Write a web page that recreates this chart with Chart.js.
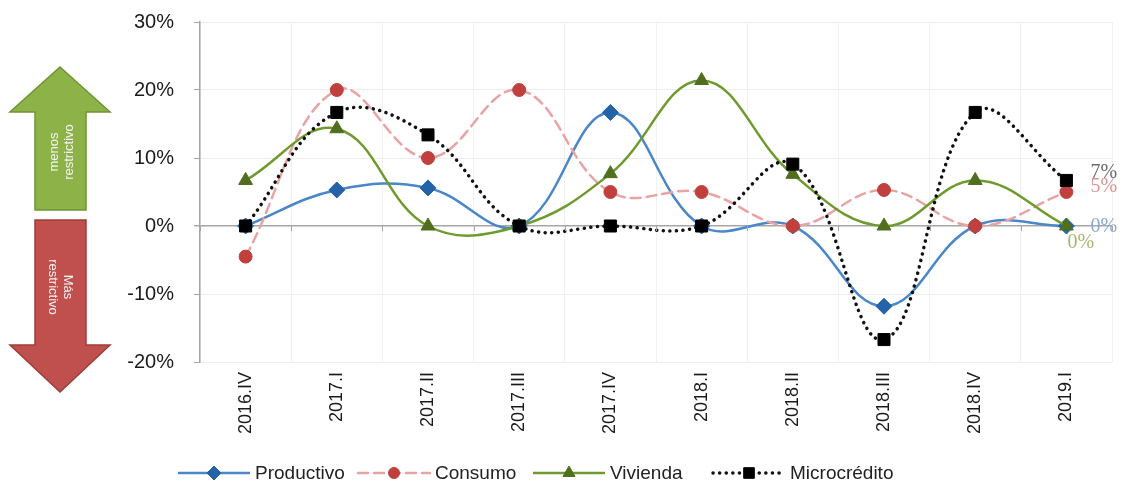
<!DOCTYPE html>
<html lang="es">
<head>
<meta charset="utf-8">
<title>Condiciones de crédito</title>
<script src="https://cdn.jsdelivr.net/npm/chart.js@4.4.1/dist/chart.umd.min.js"></script>
<style>
  html, body { margin: 0; padding: 0; background: #ffffff; }
  #caja { width: 1132px; height: 493px; position: relative; }
</style>
</head>
<body>
<div id="caja"><canvas id="grafico"></canvas></div>
<script>
// Datos (porcentaje neto por trimestre).
const trimestres = ["2016.IV", "2017.I", "2017.II", "2017.III", "2017.IV",
                    "2018.I", "2018.II", "2018.III", "2018.IV", "2019.I"];
const productivo   = [0, 5.3, 5.6, 0, 16.7, 0, 0, -11.8, 0, 0];
const consumo      = [-4.5, 20, 10, 20, 5, 5, 0, 5.3, 0, 5];
const vivienda     = [6.7, 14.3, 0, 0, 7.7, 21.4, 7.6, 0, 6.7, 0];
const microcredito = [0, 16.7, 13.4, 0, 0, 0, 9.1, -16.7, 16.7, 6.7];
const ticksY = [-20, -10, 0, 10, 20, 30];

const FUENTE = "'Liberation Sans', Arial, sans-serif";

const series = [
  { nombre: "Productivo", datos: productivo, linea: "#4a86c8", marca: "#2463a8",
    estilo: "rectRot", radio: 8, dash: [], ancho: 2.5, orden: 3,
    etiqueta: { color: "#8ea9d0", dx: 24, dy: 1 } },
  { nombre: "Consumo", datos: consumo, linea: "#e8a3a3", marca: "#c0403d",
    estilo: "circle", radio: 6.5, dash: [10, 6], ancho: 2.5, orden: 2,
    etiqueta: { color: "#d99694", dx: 24, dy: -5 } },
  { nombre: "Vivienda", datos: vivienda, linea: "#6f9a2e", marca: "#4f6f1f",
    estilo: "triangle", radio: 8, dash: [], ancho: 2.5, orden: 1,
    etiqueta: { color: "#a4b86a", dx: 1, dy: 17 } },
  { nombre: "Microcrédito", datos: microcredito, linea: "#111111", marca: "#000000",
    estilo: "rect", radio: 8.5, dash: [0.1, 6.5], ancho: 3.5, orden: 0,
    etiqueta: { color: "#6b6b6b", dx: 24, dy: -8 } },
];


// ---------------------------------------------------------------------------
// Flechas laterales, etiquetas finales y leyenda
// ---------------------------------------------------------------------------

function flecha(ctx, arriba, relleno, borde) {
  ctx.save();
  ctx.beginPath();
  if (arriba) {
    ctx.moveTo(60, 67); ctx.lineTo(110, 112); ctx.lineTo(86, 112);
    ctx.lineTo(86, 210); ctx.lineTo(35, 210); ctx.lineTo(35, 112);
    ctx.lineTo(10, 112);
  } else {
    ctx.moveTo(35, 220); ctx.lineTo(86, 220); ctx.lineTo(86, 345);
    ctx.lineTo(110, 345); ctx.lineTo(60, 392); ctx.lineTo(10, 345);
    ctx.lineTo(35, 345);
  }
  ctx.closePath();
  ctx.fillStyle = relleno;
  ctx.fill();
  ctx.lineWidth = 1.5;
  ctx.strokeStyle = borde;
  ctx.stroke();
  ctx.restore();
}

function textoGirado(ctx, lineas, cx, cy, angulo) {
  ctx.save();
  ctx.translate(cx, cy);
  ctx.rotate(angulo);
  ctx.fillStyle = "#f4f4f4";
  ctx.font = "13px " + FUENTE;
  ctx.textAlign = "center";
  ctx.textBaseline = "middle";
  const alto = 15;
  lineas.forEach((l, i) => {
    ctx.fillText(l, 0, (i - (lineas.length - 1) / 2) * alto);
  });
  ctx.restore();
}

function muestraSerie(ctx, s, x0, x1, y) {
  ctx.save();
  ctx.beginPath();
  ctx.setLineDash(s.dash);
  ctx.lineCap = s.dash.length ? "round" : "butt";
  ctx.lineWidth = s.ancho;
  ctx.strokeStyle = s.linea;
  ctx.moveTo(x0, y);
  ctx.lineTo(x1, y);
  ctx.stroke();
  ctx.restore();
  Chart.helpers.drawPoint(ctx, {
    pointStyle: s.estilo, radius: s.radio - 1, borderWidth: 1, rotation: 0,
  }, (x0 + x1) / 2, y);
}

const decoracion = {
  id: "decoracion",
  beforeDraw(chart) {
    const ctx = chart.ctx;
    flecha(ctx, true, "#8db348", "#6f9434");
    flecha(ctx, false, "#c0504d", "#9d3d3a");
    textoGirado(ctx, ["menos", "restrictivo"], 62, 152, -Math.PI / 2);
    textoGirado(ctx, ["Más", "restrictivo"], 60, 287, Math.PI / 2);
  },
  afterDatasetsDraw(chart) {
    const ctx = chart.ctx;
    const x = chart.scales.x;
    const y = chart.scales.y;
    const y0 = y.getPixelForValue(0);

    // marcas pequeñas del eje en el cero
    ctx.save();
    ctx.strokeStyle = "#a6a6a6";
    ctx.lineWidth = 1;
    for (let i = 0; i <= trimestres.length; i++) {
      const xp = Math.round(x.getPixelForValue(i - 0.5)) + 0.5;
      ctx.beginPath();
      ctx.moveTo(xp, y0);
      ctx.lineTo(xp, y0 + 5);
      ctx.stroke();
    }
    ctx.restore();

    // etiquetas del último dato
    const ult = trimestres.length - 1;
    ctx.save();
    ctx.font = "20px 'Liberation Serif', 'Times New Roman', serif";
    ctx.textBaseline = "middle";
    series.forEach((s) => {
      const v = s.datos[ult];
      const px = x.getPixelForValue(ult) + s.etiqueta.dx;
      const py = y.getPixelForValue(v) + s.etiqueta.dy;
      ctx.fillStyle = s.etiqueta.color;
      ctx.fillText(Math.round(v) + "%", px, py);
    });
    ctx.restore();

    // leyenda inferior
    const inicios = [178, 358, 533, 713];
    ctx.save();
    series.forEach((s, i) => {
      const sx = inicios[i];
      const ly = 473;
      ctx.fillStyle = s.marca;
      ctx.strokeStyle = s.marca;
      muestraSerie(ctx, s, sx, sx + 72, ly);
      ctx.fillStyle = "#222222";
      ctx.font = "19px " + FUENTE;
      ctx.textBaseline = "middle";
      ctx.textAlign = "left";
      ctx.fillText(s.nombre, sx + 77, ly + 1);
    });
    ctx.restore();
  },
};


// ---------------------------------------------------------------------------
// Gráfico
// ---------------------------------------------------------------------------

new Chart(document.getElementById("grafico"), {
  type: "line",
  data: {
    labels: trimestres,
    datasets: series.map((s) => ({
      label: s.nombre,
      data: s.datos,
      order: s.orden,
      borderColor: s.linea,
      borderWidth: s.ancho,
      borderDash: s.dash,
      borderCapStyle: s.dash.length ? "round" : "butt",
      tension: 0.4,
      fill: false,
      clip: false,
      pointStyle: s.estilo,
      pointRadius: s.radio,
      pointBackgroundColor: s.marca,
      pointBorderColor: s.marca,
      pointBorderWidth: 1,
    })),
  },
  options: {
    responsive: true,
    maintainAspectRatio: false,
    animation: false,
    layout: { padding: { left: 0, right: 20, top: 22, bottom: 0 } },
    plugins: {
      legend: { display: false },
      tooltip: { enabled: false },
    },
    scales: {
      x: {
        offset: true,
        afterFit: (scale) => { scale.height = 131; },
        grid: { offset: true, color: "#f1f1f1", drawTicks: false },
        border: { display: false },
        ticks: {
          minRotation: 90,
          maxRotation: 90,
          padding: 10,
          color: "#1a1a1a",
          font: { family: FUENTE, size: 18 },
        },
      },
      y: {
        min: ticksY[0],
        max: ticksY[ticksY.length - 1],
        afterFit: (scale) => {
          // el ancho fijo deja el área de trazado donde está en el original
          scale.width = 200;
          scale.paddingTop = 0;
          scale.paddingBottom = 0;
        },
        afterBuildTicks: (scale) => {
          scale.ticks = ticksY.map((v) => ({ value: v }));
        },
        grid: {
          color: (c) => (c.tick && c.tick.value === 0 ? "#a6a6a6" : "#ededed"),
          lineWidth: (c) => (c.tick && c.tick.value === 0 ? 1.5 : 1),
          tickColor: "#a6a6a6",
          tickLength: 6,
        },
        border: { color: "#a6a6a6", width: 1.5 },
        ticks: {
          padding: 20,
          color: "#1a1a1a",
          font: { family: FUENTE, size: 20 },
          callback: (v) => v + "%",
        },
      },
    },
  },
  plugins: [decoracion],
});
</script>
</body>
</html>
